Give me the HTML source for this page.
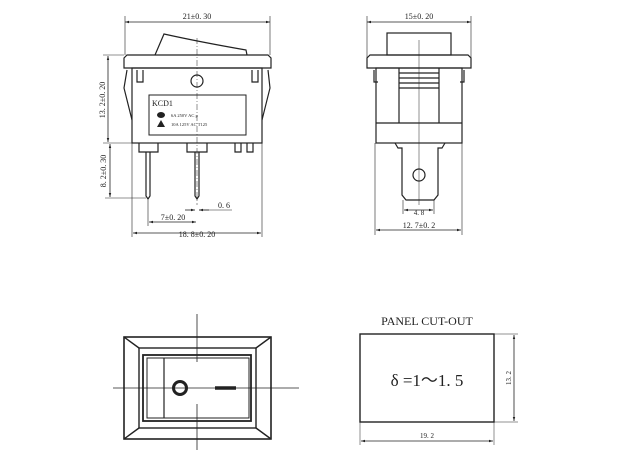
<!DOCTYPE html>
<html><head><meta charset="utf-8"><style>
html,body{margin:0;padding:0;background:#fff}
svg{display:block}
text{font-family:"Liberation Serif",serif;fill:#222}
</style></head><body>
<svg width="628" height="472" viewBox="0 0 628 472" xmlns="http://www.w3.org/2000/svg">
<defs>
<marker id="a" viewBox="0 0 10 10" refX="10" refY="5" markerWidth="8" markerHeight="5" orient="auto-start-reverse"><path d="M0,2 L10,5 L0,8 Z" fill="#222"/></marker>
</defs>
<g fill="none" stroke="#222" stroke-width="1.2">
<!-- FRONT VIEW -->
<line x1="125" y1="22" x2="270" y2="22" marker-start="url(#a)" marker-end="url(#a)" stroke-width="0.8"/>
<line x1="125" y1="16" x2="125" y2="55" stroke-width="0.6"/>
<line x1="270" y1="16" x2="270" y2="55" stroke-width="0.6"/>
<path d="M155,55 L164,34 Q200,42 246,50 L247,55"/>
<path d="M124,58 L127,55 L268,55 L271,58 L271,68 L124,68 Z"/>
<rect x="132" y="68" width="130" height="75"/>
<path d="M127,70 L124,88 L132,120 M137,70 L137,82 L143,82 L143,70 M268,70 L270,88 L262,120 M252,70 L252,82 L258,82 L258,70"/>
<circle cx="197" cy="81" r="6"/>
<rect x="149" y="95" width="97" height="40" stroke-width="1"/>
<line x1="197" y1="38" x2="197" y2="205" stroke-width="0.5" stroke-dasharray="6,2,1,2"/>
<path d="M139,143 L139,152 L158,152 L158,143 M187,143 L187,152 L207,152 L207,143 M235,143 L235,152 L241,152 L241,143 M247,143 L247,152 L253,152 L253,143"/>
<path d="M146,152 L146,196 L148,199 L150,196 L150,152 M195,152 L195,196 L197,199 L199,196 L199,152"/>
<!-- left dims -->
<line x1="108" y1="56" x2="108" y2="142" marker-start="url(#a)" marker-end="url(#a)" stroke-width="0.8"/>
<line x1="103" y1="55" x2="124" y2="55" stroke-width="0.6"/>
<line x1="103" y1="143" x2="132" y2="143" stroke-width="0.6"/>
<line x1="110" y1="144" x2="110" y2="197" marker-start="url(#a)" marker-end="url(#a)" stroke-width="0.8"/>
<line x1="105" y1="198" x2="146" y2="198" stroke-width="0.6"/>
<!-- bottom dims -->
<line x1="185" y1="210" x2="195" y2="210" marker-end="url(#a)" stroke-width="0.8"/>
<line x1="209" y1="210" x2="199" y2="210" marker-end="url(#a)" stroke-width="0.8"/>
<line x1="199" y1="210" x2="232" y2="210" stroke-width="0.6"/>
<line x1="148" y1="200" x2="148" y2="226" stroke-width="0.6"/>
<line x1="149" y1="222" x2="196" y2="222" marker-start="url(#a)" marker-end="url(#a)" stroke-width="0.8"/>
<line x1="132" y1="143" x2="132" y2="237" stroke-width="0.6"/>
<line x1="262" y1="143" x2="262" y2="237" stroke-width="0.6"/>
<line x1="133" y1="233" x2="261" y2="233" marker-start="url(#a)" marker-end="url(#a)" stroke-width="0.8"/>

<!-- SIDE VIEW -->
<line x1="367" y1="22" x2="471" y2="22" marker-start="url(#a)" marker-end="url(#a)" stroke-width="0.8"/>
<line x1="367" y1="16" x2="367" y2="58" stroke-width="0.6"/>
<line x1="471" y1="16" x2="471" y2="58" stroke-width="0.6"/>
<rect x="387" y="33" width="64" height="22"/>
<path d="M367,58 L370,55 L468,55 L471,58 L471,68 L367,68 Z"/>
<rect x="376" y="68" width="86" height="75"/>
<path d="M374,70 L374,82 L378,82 M464,70 L464,82 L460,82"/>
<path d="M399,68 L399,123 M439,68 L439,123 M399,73 L439,73 M399,78 L439,78 M399,83 L439,83 M399,88 L439,88 M376,123 L462,123"/>
<line x1="419" y1="40" x2="419" y2="205" stroke-width="0.5"/>
<path d="M395,143 L398,148 L402,148 L402,195 L406,200 L434,200 L438,195 L438,148 L442,148 L445,143"/>
<circle cx="419" cy="175" r="6"/>
<line x1="403" y1="200" x2="403" y2="214" stroke-width="0.6"/>
<line x1="434" y1="200" x2="434" y2="214" stroke-width="0.6"/>
<line x1="404" y1="210" x2="433" y2="210" marker-start="url(#a)" marker-end="url(#a)" stroke-width="0.8"/>
<line x1="375" y1="143" x2="375" y2="235" stroke-width="0.6"/>
<line x1="462" y1="143" x2="462" y2="235" stroke-width="0.6"/>
<line x1="376" y1="230" x2="461" y2="230" marker-start="url(#a)" marker-end="url(#a)" stroke-width="0.8"/>

<!-- TOP VIEW -->
<rect x="124" y="337" width="147" height="102" stroke-width="1.6"/>
<rect x="139" y="348" width="117" height="80" stroke-width="1.4"/>
<path d="M124,337 L139,348 M271,337 L256,348 M124,439 L139,428 M271,439 L256,428" stroke-width="1.4"/>
<rect x="143" y="355" width="108" height="66" stroke-width="1.8"/>
<rect x="147" y="358" width="102" height="60" stroke-width="1"/>
<line x1="164" y1="358" x2="164" y2="418" stroke-width="1.2"/>
<line x1="197" y1="314" x2="197" y2="362" stroke-width="0.8"/>
<line x1="197" y1="404" x2="197" y2="450" stroke-width="0.8"/>
<line x1="113" y1="388" x2="299" y2="388" stroke-width="0.8"/>
<circle cx="180" cy="388" r="6.5" stroke-width="3"/>
<line x1="215" y1="388" x2="236" y2="388" stroke-width="3.5"/>

<!-- PANEL CUT-OUT -->
<rect x="360" y="334" width="134" height="88" stroke-width="1.4"/>
<line x1="494" y1="334" x2="518" y2="334" stroke-width="0.5"/>
<line x1="494" y1="422" x2="518" y2="422" stroke-width="0.5"/>
<line x1="514" y1="335" x2="514" y2="421" marker-start="url(#a)" marker-end="url(#a)" stroke-width="0.8"/>
<line x1="360" y1="422" x2="360" y2="445" stroke-width="0.5"/>
<line x1="494" y1="422" x2="494" y2="445" stroke-width="0.5"/>
<line x1="361" y1="441" x2="493" y2="441" marker-start="url(#a)" marker-end="url(#a)" stroke-width="0.8"/>
</g>
<!-- label box contents -->
<text x="152" y="106" font-size="8">KCD1</text>
<ellipse cx="161" cy="115" rx="4" ry="3" fill="#222"/>
<path d="M157,127 L161,120 L165,127 Z" fill="#222"/>
<text x="171" y="117" font-size="4.5">6A 250V AC  μ</text>
<text x="171" y="126" font-size="4.5">10A 125V AC  T125</text>
<!-- dim texts -->
<text x="197" y="19" font-size="8" text-anchor="middle">21±0. 30</text>
<text x="0" y="0" font-size="8" text-anchor="middle" transform="translate(105,100) rotate(-90)">13. 2±0. 20</text>
<text x="0" y="0" font-size="8" text-anchor="middle" transform="translate(106,171) rotate(-90)">8. 2±0. 30</text>
<text x="224" y="208" font-size="8" text-anchor="middle">0. 6</text>
<text x="173" y="220" font-size="8" text-anchor="middle">7±0. 20</text>
<text x="197" y="237" font-size="8" text-anchor="middle">18. 8±0. 20</text>
<text x="419" y="19" font-size="8" text-anchor="middle">15±0. 20</text>
<text x="419" y="215" font-size="7" text-anchor="middle">4. 8</text>
<text x="419" y="228" font-size="8" text-anchor="middle">12. 7±0. 2</text>
<text x="427" y="325" font-size="12" text-anchor="middle">PANEL CUT-OUT</text>
<text x="427" y="386" font-size="17" text-anchor="middle">δ =1～1. 5</text>
<text x="0" y="0" font-size="7" text-anchor="middle" transform="translate(511,378) rotate(-90)">13. 2</text>
<text x="427" y="438" font-size="7" text-anchor="middle">19. 2</text>
</svg>
</body></html>
